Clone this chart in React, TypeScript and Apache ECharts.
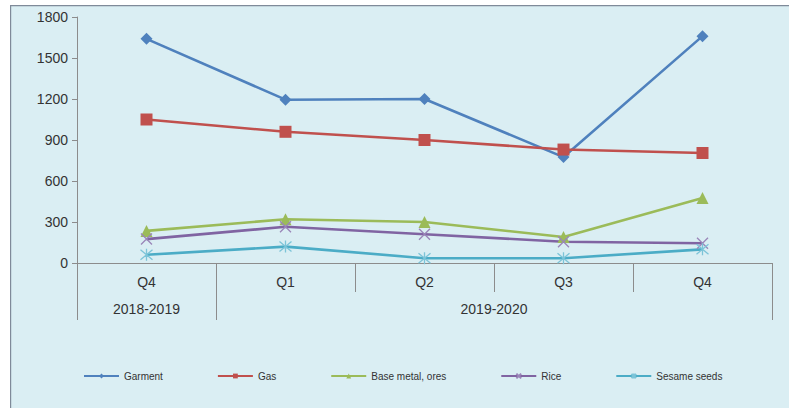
import React, { useEffect, useRef } from "react";
import * as echarts from "echarts";

const quarters = ["Q4", "Q1", "Q2", "Q3", "Q4"];
const yearGroups = ["2018-2019", "2019-2020"];
const yearGroupBounds = [0, 1, 5];
const yearGroupCenters = [0.5, 3];
const yTicks = [0, 300, 600, 900, 1200, 1500, 1800];

const garment = [1640, 1195, 1200, 775, 1660];
const gas = [1050, 960, 900, 830, 805];
const baseMetal = [235, 320, 300, 190, 475];
const rice = [175, 265, 210, 155, 145];
const sesame = [60, 120, 35, 35, 100];

const FONT = "'Liberation Sans', Arial, sans-serif";

export default function App() {
  const ref = useRef<HTMLDivElement>(null);
  useEffect(() => {
    const chart = echarts.init(ref.current!, null, { renderer: "svg" });
    const xSym = "path://M0,0L10,10M10,0L0,10";
    const astSym = "path://M0,0L10,10M10,0L0,10M5,-1L5,11";
    const mk = (name: string, data: number[], color: string, symbol: string, size: number, extra: any = {}) => ({
      name,
      type: "line",
      data,
      color,
      symbol,
      symbolSize: size,
      lineStyle: { color, width: 2.6 },
      itemStyle: { color, ...extra },
      xAxisIndex: 0,
      yAxisIndex: 0,
    });
    chart.setOption({
      animation: false,
      backgroundColor: "#ffffff",
      graphic: [
        {
          type: "rect",
          left: 10,
          top: 5,
          z: -10,
          silent: true,
          shape: { width: 800, height: 420 },
          style: { fill: "#DAEEF3", stroke: "#7F8A99", lineWidth: 1.2 },
        },
      ],
      grid: { left: 77, right: 17, top: 17, bottom: 145 },
      legend: {
        left: 78,
        top: 366,
        itemGap: 54,
        itemWidth: 35,
        itemHeight: 6,
        lineStyle: { width: 2 },
        textStyle: { fontFamily: FONT, fontSize: 10, color: "#333" },
        data: ["Garment", "Gas", "Base metal, ores", "Rice", "Sesame seeds"],
      },
      xAxis: [
        {
          type: "category",
          data: quarters,
          position: "bottom",
          boundaryGap: true,
          axisLine: { lineStyle: { color: "#8C8C8C", width: 1 } },
          axisTick: { show: true, interval: 0, length: 29, lineStyle: { color: "#8C8C8C" } },
          axisLabel: { fontFamily: FONT, fontSize: 14, color: "#333", margin: 12 },
          splitLine: { show: false },
        },
        {
          type: "value",
          min: 0,
          max: 5,
          position: "bottom",
          offset: 0,
          axisLine: { show: false },
          splitLine: { show: false },
          axisTick: {
            show: true,
            customValues: yearGroupBounds,
            length: 57,
            lineStyle: { color: "#8C8C8C" },
          },
          axisLabel: {
            customValues: yearGroupCenters,
            fontFamily: FONT,
            fontSize: 14,
            color: "#333",
            margin: 39,
            formatter: (v: number) => (v < 1 ? yearGroups[0] : yearGroups[1]),
          },
        },
      ],
      yAxis: {
        type: "value",
        min: 0,
        max: 1800,
        interval: 300,
        axisLine: { show: true, lineStyle: { color: "#8C8C8C" } },
        axisTick: { show: true, length: 5, lineStyle: { color: "#8C8C8C" } },
        axisLabel: {
          fontFamily: FONT,
          fontSize: 14,
          color: "#333",
          margin: 9,
          formatter: (v: number) => (yTicks.includes(v) ? String(v) : ""),
        },
        splitLine: { show: false },
      },
      series: [
        mk("Garment", garment, "#4F81BD", "diamond", 12),
        mk("Gas", gas, "#C0504D", "rect", 12),
        mk("Base metal, ores", baseMetal, "#9BBB59", "triangle", 12),
        mk("Rice", rice, "#8064A2", xSym, 11, { color: "#9A85B8", borderColor: "#9A85B8", borderWidth: 1.3 }),
        mk("Sesame seeds", sesame, "#4BACC6", astSym, 12, { color: "#7CC4D8", borderColor: "#7CC4D8", borderWidth: 1.3 }),
      ],
    });
    return () => chart.dispose();
  }, []);
  return (
    <div
      ref={ref}
      style={{ position: "fixed", left: 0, top: 0, width: 789, height: 408 }}
    />
  );
}
